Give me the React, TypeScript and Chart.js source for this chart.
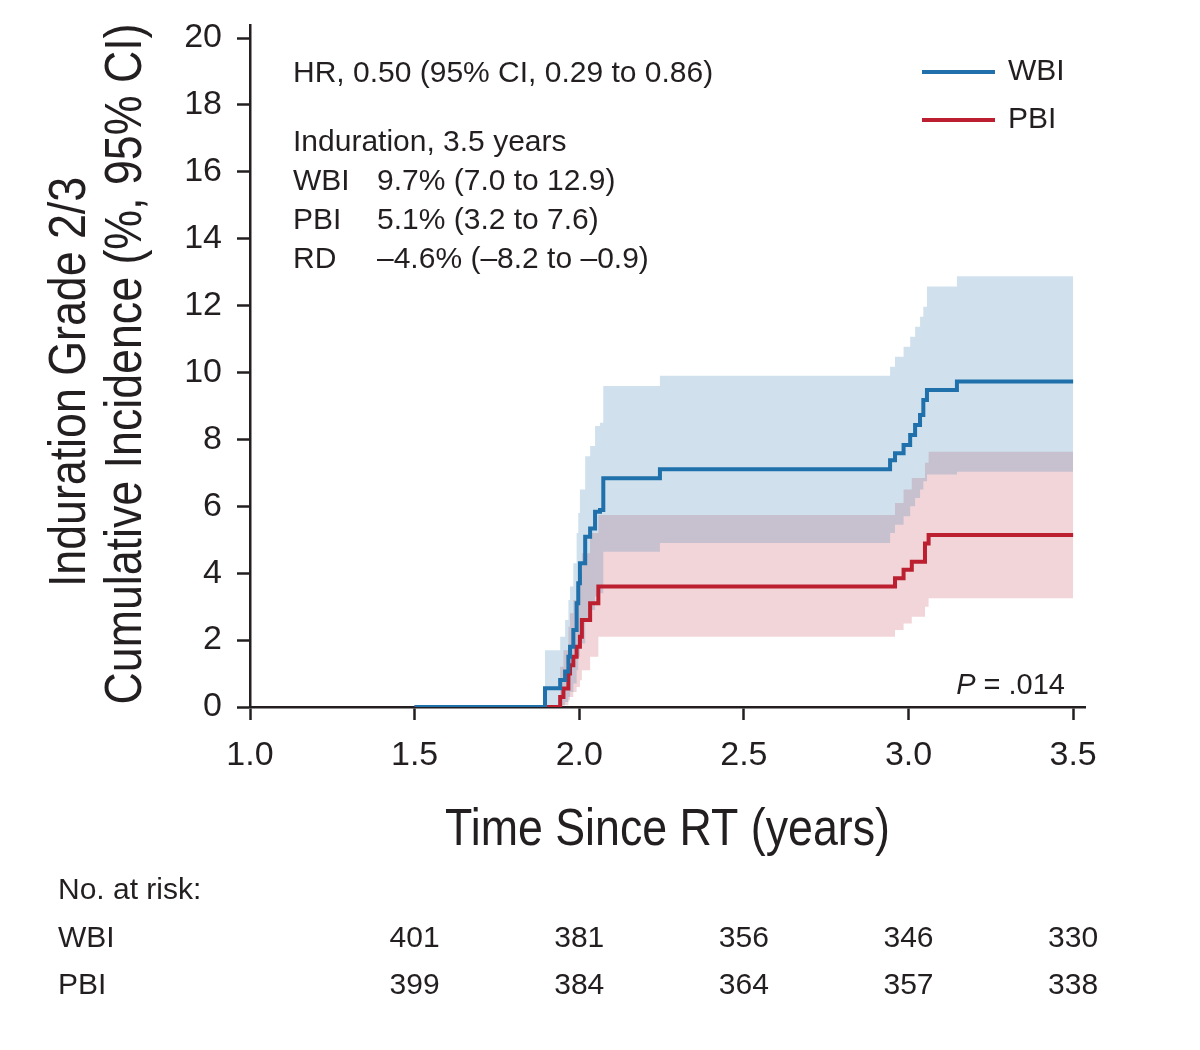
import { useEffect, useRef } from "react"
import { Chart, registerables } from "chart.js"

Chart.register(...registerables)

// axis ticks
const xTicks = [1.0, 1.5, 2.0, 2.5, 3.0, 3.5]
const yTicks = [0, 2, 4, 6, 8, 10, 12, 14, 16, 18, 20]

// WBI cumulative incidence (%) with 95% CI
const wbiTime = [1.5, 1.896, 1.942, 1.957, 1.967, 1.972, 1.982, 1.992, 1.997, 2.002, 2.018, 2.033, 2.048, 2.063, 2.073, 2.245, 2.944, 2.959, 2.985, 3.005, 3.02, 3.035, 3.045, 3.056, 3.147, 3.5]
const wbiEst = [0, 0.56, 0.81, 1.06, 1.5, 1.8, 2.3, 3.1, 3.7, 4.3, 5.09, 5.34, 5.84, 5.89, 6.84, 7.11, 7.38, 7.59, 7.83, 8.13, 8.43, 8.73, 9.18, 9.48, 9.73, 9.73]
const wbiUpper = [0, 1.7, 2.1, 2.6, 3.2, 3.6, 4.3, 5.2, 5.8, 6.5, 7.5, 7.8, 8.4, 8.5, 9.6, 9.9, 10.17, 10.47, 10.77, 11.07, 11.37, 11.67, 11.97, 12.57, 12.88, 12.88]
const wbiLower = [0, 0, 0.05, 0.15, 0.3, 0.45, 0.7, 1.1, 1.5, 1.9, 2.6, 2.9, 3.3, 3.4, 4.64, 4.9, 5.2, 5.45, 5.7, 6.0, 6.25, 6.5, 6.75, 6.95, 7.03, 7.03]

// PBI cumulative incidence (%) with 95% CI
const pbiTime = [1.5, 1.942, 1.952, 1.967, 1.972, 1.982, 1.992, 2.002, 2.008, 2.033, 2.058, 2.959, 2.985, 3.01, 3.05, 3.061, 3.5]
const pbiEst = [0, 0.3, 0.55, 1.0, 1.25, 1.5, 1.8, 2.1, 2.6, 3.1, 3.6, 3.85, 4.1, 4.34, 4.89, 5.14, 5.14]
const pbiUpper = [0, 1.2, 1.7, 2.4, 2.8, 3.2, 3.6, 4.0, 4.6, 5.2, 5.74, 6.1, 6.5, 6.85, 7.3, 7.63, 7.63]
const pbiLower = [0, 0, 0.05, 0.2, 0.3, 0.45, 0.6, 0.8, 1.1, 1.5, 2.1, 2.3, 2.5, 2.7, 3.0, 3.25, 3.25]

// number at risk table
const riskTimes = [1.5, 2.0, 2.5, 3.0, 3.5]
const wbiAtRisk = [401, 381, 356, 346, 330]
const pbiAtRisk = [399, 384, 364, 357, 338]

// text in the figure
const xTitle = "Time Since RT (years)"
const yTitleLines = ["Induration Grade 2/3", "Cumulative Incidence (%, 95% CI)"]
const hrText = "HR, 0.50 (95% CI, 0.29 to 0.86)"
const statsTitle = "Induration, 3.5 years"
const statsLabels = ["WBI", "PBI", "RD"]
const statsValues = ["9.7% (7.0 to 12.9)", "5.1% (3.2 to 7.6)", "–4.6% (–8.2 to –0.9)"]

const BLUE = "#1f70ab"
const RED = "#bc1f30"
const INK = "#231f20"
const SANS = '"Liberation Sans", Arial, sans-serif'

const toPoints = (xs: number[], ys: number[]) => xs.map((x, i) => ({ x, y: ys[i] }))

// condensed look for the axis titles: squeeze Liberation Sans along the text direction
const drawCondensed = (ctx: CanvasRenderingContext2D, text: string, x: number, y: number, rotate: boolean) => {
  ctx.save()
  ctx.translate(x, y)
  if (rotate) ctx.rotate(-Math.PI / 2)
  ctx.scale(0.86, 1)
  ctx.textAlign = "center"
  ctx.textBaseline = "alphabetic"
  ctx.font = `52px ${SANS}`
  ctx.fillText(text, 0, 0)
  ctx.restore()
}

const overlayPlugin = {
  id: "overlay",
  afterDraw(chart: any) {
    const { ctx, scales, chartArea } = chart
    ctx.save()
    ctx.fillStyle = INK

    // axis titles
    drawCondensed(ctx, xTitle, (chartArea.left + chartArea.right) / 2, 845, false)
    drawCondensed(ctx, yTitleLines[0], 85, 382, true)
    drawCondensed(ctx, yTitleLines[1], 141, 364, true)

    ctx.textBaseline = "middle"
    ctx.textAlign = "left"
    ctx.font = `30px ${SANS}`

    // statistics block
    ctx.fillText(hrText, 293, 74)
    ctx.fillText(statsTitle, 293, 143)
    statsLabels.forEach((label, i) => {
      ctx.fillText(label, 293, 182 + i * 39)
      ctx.fillText(statsValues[i], 377, 182 + i * 39)
    })

    // legend
    const legendItems = [chart.data.datasets[0], chart.data.datasets[1]]
    legendItems.forEach((ds: any, i: number) => {
      const y = 72 + i * 48
      ctx.strokeStyle = ds.borderColor
      ctx.lineWidth = 4
      ctx.beginPath()
      ctx.moveTo(922, y)
      ctx.lineTo(995, y)
      ctx.stroke()
      ctx.fillText(ds.label, 1008, y)
    })

    // P value
    const rest = " = .014"
    ctx.font = `29px ${SANS}`
    const restW = ctx.measureText(rest).width
    ctx.textAlign = "right"
    ctx.fillText(rest, 1065, 686)
    ctx.font = `italic 29px ${SANS}`
    ctx.fillText("P", 1065 - restW, 686)

    // number at risk
    ctx.font = `30px ${SANS}`
    ctx.textAlign = "left"
    ctx.fillText("No. at risk:", 58, 891)
    ctx.fillText("WBI", 58, 939)
    ctx.fillText("PBI", 58, 986)
    ctx.textAlign = "center"
    riskTimes.forEach((t, i) => {
      const x = scales.x.getPixelForValue(t)
      ctx.fillText(String(wbiAtRisk[i]), x, 939)
      ctx.fillText(String(pbiAtRisk[i]), x, 986)
    })
    ctx.restore()
  },
}

export default function App() {
  const chartRef = useRef<HTMLCanvasElement>(null)
  const chartInstance = useRef<Chart | null>(null)

  useEffect(() => {
    document.body.style.margin = "0"
    if (!chartRef.current) return
    if (chartInstance.current) chartInstance.current.destroy()

    const lineStyle = {
      pointRadius: 0,
      borderWidth: 4,
      stepped: "before" as const,
      borderJoinStyle: "miter" as const,
      fill: false,
    }
    const bandStyle = {
      pointRadius: 0,
      borderWidth: 0,
      stepped: "before" as const,
    }

    chartInstance.current = new Chart(chartRef.current, {
      type: "line",
      data: {
        datasets: [
          { label: "WBI", data: toPoints(wbiTime, wbiEst), borderColor: BLUE, ...lineStyle },
          { label: "PBI", data: toPoints(pbiTime, pbiEst), borderColor: RED, ...lineStyle },
          {
            label: "WBI upper",
            data: toPoints(wbiTime, wbiUpper),
            backgroundColor: "rgba(31, 112, 171, 0.21)",
            borderColor: "rgba(0,0,0,0)",
            fill: "+1",
            ...bandStyle,
          },
          { label: "WBI lower", data: toPoints(wbiTime, wbiLower), borderColor: "rgba(0,0,0,0)", fill: false, ...bandStyle },
          {
            label: "PBI upper",
            data: toPoints(pbiTime, pbiUpper),
            backgroundColor: "rgba(188, 31, 48, 0.19)",
            borderColor: "rgba(0,0,0,0)",
            fill: "+1",
            ...bandStyle,
          },
          { label: "PBI lower", data: toPoints(pbiTime, pbiLower), borderColor: "rgba(0,0,0,0)", fill: false, ...bandStyle },
        ],
      },
      options: {
        animation: false,
        responsive: true,
        maintainAspectRatio: false,
        layout: { padding: { top: 25, right: 115, bottom: 173, left: 0 } },
        plugins: {
          legend: { display: false },
          tooltip: { enabled: false },
        },
        scales: {
          x: {
            type: "linear",
            min: 1.0,
            max: 3.536,
            afterBuildTicks: (axis: any) => {
              axis.ticks = xTicks.map((v) => ({ value: v }))
            },
            afterFit: (scale: any) => {
              scale.height = 170
            },
            ticks: {
              callback: (v: any) => Number(v).toFixed(1),
              color: INK,
              font: { family: SANS, size: 34 },
              padding: 15,
              maxRotation: 0,
            },
            grid: { drawOnChartArea: false, drawTicks: true, tickLength: 13, tickWidth: 2.5, tickColor: INK },
            border: { display: true, color: INK, width: 2.5 },
          },
          y: {
            type: "linear",
            min: 0,
            max: 20.39,
            afterBuildTicks: (axis: any) => {
              axis.ticks = yTicks.map((v) => ({ value: v }))
            },
            afterFit: (scale: any) => {
              scale.width = 250
              scale.paddingTop = 0
            },
            ticks: {
              color: INK,
              font: { family: SANS, size: 34 },
              padding: 15,
            },
            grid: { drawOnChartArea: false, drawTicks: true, tickLength: 13, tickWidth: 2.5, tickColor: INK },
            border: { display: true, color: INK, width: 2.5 },
          },
        },
      },
      plugins: [overlayPlugin],
    })

    return () => {
      if (chartInstance.current) {
        chartInstance.current.destroy()
        chartInstance.current = null
      }
    }
  }, [])

  return (
    <div style={{ position: "relative", width: 1200, height: 1050, background: "#fff" }}>
      <canvas ref={chartRef} />
    </div>
  )
}
